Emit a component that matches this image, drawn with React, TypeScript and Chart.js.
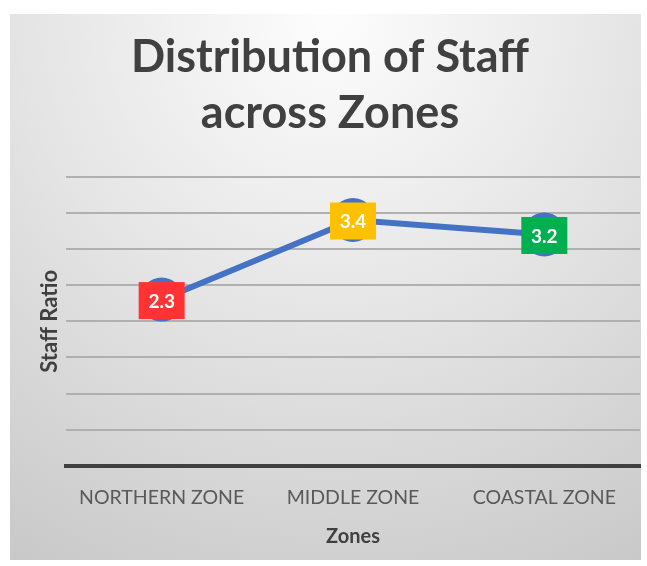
import React, { useEffect, useRef } from "react";
import { Chart, registerables } from "chart.js";

Chart.register(...registerables);

const categories = ["NORTHERN ZONE", "MIDDLE ZONE", "COASTAL ZONE"];
const staffRatio = [2.3, 3.4, 3.2];
const labelColors = ["#FF3333", "#FFC000", "#00B050"];
const titleLines = ["Distribution of Staff", "across Zones"];
const yTitle = "Staff Ratio";
const xTitle = "Zones";

const FONT = "Lato, 'Open Sans', sans-serif";

const bgPlugin = {
  id: "bgBox",
  beforeDraw(chart: any) {
    const { ctx, width, height } = chart;
    ctx.save();
    ctx.fillStyle = "#ffffff";
    ctx.fillRect(0, 0, width, height);
    const x0 = 10, y0 = 14, x1 = 641, y1 = 560;
    const g = ctx.createRadialGradient(330, 20, 0, 330, 20, 620);
    g.addColorStop(0, "#fdfdfd");
    g.addColorStop(0.5, "#e4e4e4");
    g.addColorStop(1, "#c9c9c9");
    ctx.fillStyle = g;
    ctx.fillRect(x0, y0, x1 - x0, y1 - y0);
    ctx.restore();
  },
};

const labelPlugin = {
  id: "valueBoxes",
  afterDatasetsDraw(chart: any) {
    const { ctx } = chart;
    const meta = chart.getDatasetMeta(0);
    ctx.save();
    meta.data.forEach((pt: any, i: number) => {
      const w = 46, h = 37;
      ctx.fillStyle = labelColors[i];
      ctx.fillRect(pt.x - w / 2, pt.y - h / 2 + 1, w, h);
      ctx.fillStyle = "#ffffff";
      ctx.font = `bold 19px ${FONT}`;
      ctx.textAlign = "center";
      ctx.textBaseline = "middle";
      ctx.fillText(String(staffRatio[i]), pt.x, pt.y + 2);
    });
    ctx.restore();
  },
};

export default function App() {
  const ref = useRef<HTMLCanvasElement | null>(null);
  useEffect(() => {
    if (!ref.current) return;
    const chart = new Chart(ref.current, {
      type: "line",
      data: {
        labels: categories,
        datasets: [
          {
            data: staffRatio,
            borderColor: "#4472C4",
            backgroundColor: "#4472C4",
            borderWidth: 6,
            pointRadius: 22,
            pointBackgroundColor: "#4472C4",
            pointBorderWidth: 0,
            tension: 0,
            clip: false,
          },
        ],
      },
      options: {
        responsive: false,
        animation: false,
        layout: { autoPadding: false, padding: { left: 20, right: 7, top: 14, bottom: 6 } },
        plugins: {
          legend: { display: false },
          tooltip: { enabled: false },
          title: {
            display: true,
            text: titleLines,
            color: "#404040",
            font: { family: FONT, size: 45, weight: "bold", lineHeight: 1.24 },
            padding: { top: 16, bottom: 35 },
          },
        },
        scales: {
          x: {
            offset: true,
            grid: { display: false, drawTicks: false, offset: true },
            border: { display: true, color: "#404040", width: 4 },
            ticks: {
              color: "#595959",
              font: { family: FONT, size: 19.5 },
              padding: 20,
              maxRotation: 0,
              autoSkip: false,
            },
            title: {
              display: true,
              text: xTitle,
              color: "#404040",
              font: { family: FONT, size: 20, weight: "bold" },
              padding: { top: 0, bottom: 11 },
            },
            afterFit: (scale: any) => {
              scale.height = 94;
              scale.paddingLeft = 0;
              scale.paddingRight = 0;
            },
          },
          y: {
            min: 0,
            max: 4,
            ticks: { display: false, stepSize: 0.5 },
            grid: {
              drawTicks: false,
              tickLength: 0,
              lineWidth: 2,
              color: (c: any) => (c.tick && c.tick.value === 0 ? "rgba(0,0,0,0)" : "#b0b0b0"),
            },
            border: { display: false },
            title: {
              display: true,
              text: yTitle,
              color: "#404040",
              font: { family: FONT, size: 22, weight: "bold" },
              padding: { top: 17, bottom: 0 },
            },
            afterFit: (scale: any) => {
              scale.width = 46;
            },
          },
        },
      },
      plugins: [bgPlugin, labelPlugin],
    });
    return () => chart.destroy();
  }, []);
  return (
    <div style={{ position: "fixed", left: 0, top: 0, width: 647, height: 566 }}>
      <canvas ref={ref} width={647} height={566} style={{ display: "block" }} />
    </div>
  );
}
